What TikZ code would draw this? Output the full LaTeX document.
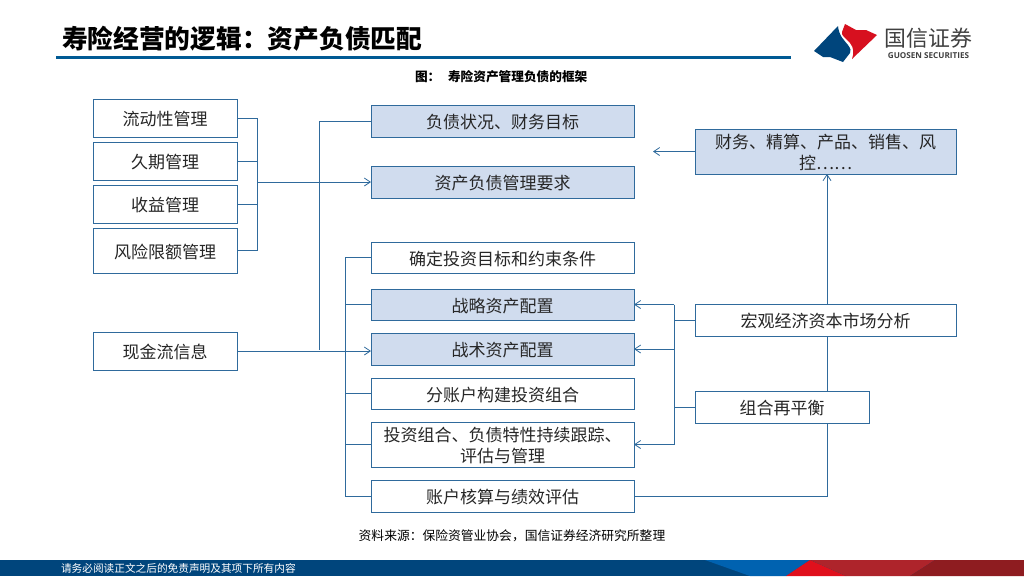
\documentclass[tikz,border=0pt]{standalone}
\usepackage{fontspec}
\setmainfont{Noto Sans CJK SC}
\newfontfamily\latinfont{Open Sans}
\usetikzlibrary{arrows.meta,backgrounds}
\definecolor{linec}{HTML}{2F6A9C}
\definecolor{boxfill}{HTML}{D0DCEE}
\definecolor{navy}{HTML}{00457C}
\definecolor{rulec}{HTML}{005A94}
\definecolor{logored}{HTML}{D7101F}
\definecolor{footblue}{HTML}{0062B0}
\definecolor{footred}{HTML}{E0101C}
\definecolor{footmid}{HTML}{AE242B}
\definecolor{footdark}{HTML}{8E1C20}
\newcommand{\fwcolon}{\char"FF1A\relax}
\newcommand{\fwcomma}{\char"FF0C\relax}
\newcommand{\boxat}[7]{%
  \pgfmathsetmacro\wid{(#4-#2)*.75}\pgfmathsetmacro\hei{(#5-#3)*.75}%
  \node[#6,minimum width=\wid pt,minimum height=\hei pt] (#1) at ({(#2+#4)/2},{(#3+#5)/2}) {\rule{0pt}{12.5pt}#7};}
\tikzset{
  plainbox/.style={draw=linec,line width=.75pt,fill=white,inner sep=0pt,outer sep=0pt,align=center,font=\fontsize{12.75}{15.75}\selectfont,text=black!85},
  bluebox/.style={plainbox,fill=boxfill},
  link/.style={draw=linec,line width=.75pt},
  arrowlink/.style={link,-{Straight Barb[length=4.5pt,width=6pt,line width=.6pt]}},
  plaintext/.style={inner sep=0pt,outer sep=0pt,anchor=center},
}
\begin{document}
\begin{tikzpicture}[x=.75pt,y=-.75pt]
\useasboundingbox (0,0) rectangle (1024,576);
% nodes
\boxat{liq}{93}{99}{237}{137}{plainbox}{流动性管理}
\boxat{dur}{93}{142}{237}{180}{plainbox}{久期管理}
\boxat{inc}{93}{185}{237}{223}{plainbox}{收益管理}
\boxat{risk}{93}{228}{237}{273}{plainbox}{风险限额管理}
\boxat{cash}{93}{332}{237}{370}{plainbox}{现金流信息}
\boxat{liab}{371}{105}{634}{137}{bluebox}{负债状况、财务目标}
\boxat{alm}{371}{166}{634}{198}{bluebox}{资产负债管理要求}
\boxat{goal}{371}{242}{634}{273}{plainbox}{确定投资目标和约束条件}
\boxat{strat}{371}{289}{634}{320}{bluebox}{战略资产配置}
\boxat{tact}{371}{333}{634}{365}{bluebox}{战术资产配置}
\boxat{split}{371}{378}{634}{409}{plainbox}{分账户构建投资组合}
\boxat{track}{371}{422}{634}{467}{plainbox}{投资组合、负债特性持续跟踪、\\评估与管理}
\boxat{acct}{371}{480}{634}{512}{plainbox}{账户核算与绩效评估}
\boxat{fin}{695}{129}{956}{174}{bluebox}{财务、精算、产品、销售、风\\控……}
\boxat{macro}{695}{304}{956}{336}{plainbox}{宏观经济资本市场分析}
\boxat{rebal}{695}{391}{869}{423}{plainbox}{组合再平衡}
% junction coordinates
\coordinate (sa) at (257,182);
\coordinate (sb) at (319,350);
\coordinate (sc) at (345,300);
\coordinate (sd) at (674,360);
\coordinate (se) at (827,300);
\coordinate (ff) at (653,152);
\begin{scope}[on background layer]
\fill[white] (0,0) rectangle (1024,576);
\draw[link] (liq.east) -- (liq.east -| sa) -- (risk.east -| sa) -- (risk.east);
\draw[link] (dur.east) -- (dur.east -| sa);
\draw[link] (inc.east) -- (inc.east -| sa);
\draw[arrowlink] (sa) -- (sa -| alm.west);
\draw[arrowlink] (cash.east) -- (cash.east -| tact.west);
\draw[link] (liab.west) -| (sb);
\draw[link] (goal.west) -- (goal.west -| sc) -- (acct.west -| sc) -- (acct.west);
\draw[link] (strat.west) -- (strat.west -| sc);
\draw[link] (split.west) -- (split.west -| sc);
\draw[link] (track.west) -- (track.west -| sc);
\draw[link] (strat.east -| sd) -- (track.east -| sd);
\draw[arrowlink] (strat.east -| sd) -- (strat.east);
\draw[arrowlink] (tact.east -| sd) -- (tact.east);
\draw[arrowlink] (track.east -| sd) -- (track.east);
\draw[link] (macro.west) -- (macro.west -| sd);
\draw[link] (rebal.west) -- (rebal.west -| sd);
\draw[arrowlink] (acct.east) -- (acct.east -| se) -- (fin.south -| se);
\draw[arrowlink] (fin.west) -- (fin.west -| ff);
\end{scope}
% header
\node[plaintext,anchor=west,font=\fontsize{19.3}{22}\selectfont\bfseries] (title) at (62,39) {寿险经营的逻辑\fwcolon 资产负债匹配};
\fill[rulec] (56,55.5) rectangle (791,58.5);
\node[plaintext,anchor=west,font=\fontsize{9.5}{11}\selectfont\bfseries] (fig) at (415,77) {图\fwcolon};
\node[plaintext,anchor=west,font=\fontsize{9.5}{11}\selectfont\bfseries] (figt) at (448,77) {寿险资产管理负债的框架};
\node[plaintext,font=\fontsize{9.58}{11}\selectfont] (src) at (512,536) {资料来源\fwcolon 保险资管业协会\fwcomma 国信证券经济研究所整理};
% logo
\fill[navy] (814,51) -- (838,26) .. controls (839,36) and (844,40) .. (848,45) .. controls (851,49) and (851,51) .. (850,53) -- (843,62) -- (830,57) -- (823,57) -- cycle;
\fill[logored] (845,24) -- (856,30) -- (866,30) -- (877,35) -- (852,59) .. controls (854,53) and (854,48) .. (850,43) .. controls (846,38) and (841,36) .. (842,32) -- cycle;
\node[plaintext,font=\fontsize{16.4}{18}\selectfont,text=black!75] (lg) at (928.5,38) {国信证券};
\node[plaintext,font=\fontsize{6.1}{7}\selectfont\latinfont\bfseries,text=black!75] (lge) at (928.5,56) {GUOSEN SECURITIES};
% footer
\fill[navy] (0,560) rectangle (1024,576);
\fill[footblue] (705,560) -- (810,560) -- (786,576) -- (750,576) -- cycle;
\fill[footred] (810,560) -- (786,576) -- (846,576) -- cycle;
\fill[footmid] (810,560) -- (935,560) -- (910,576) -- (846,576) -- cycle;
\fill[footdark] (935,560) -- (1024,560) -- (1024,576) -- (910,576) -- cycle;
\node[plaintext,anchor=west,font=\fontsize{8}{10}\selectfont,text=white] (foot) at (61,568) {请务必阅读正文之后的免责声明及其项下所有内容};
\end{tikzpicture}
\end{document}
